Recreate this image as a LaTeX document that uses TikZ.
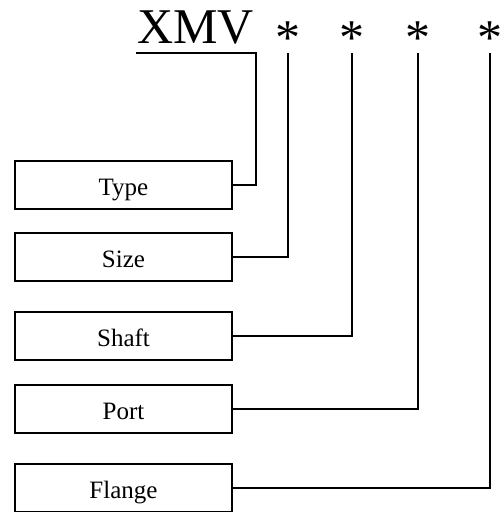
\documentclass[tikz,border=0pt]{standalone}
\usepackage{fontspec}
\setmainfont{Liberation Serif}
\usetikzlibrary{positioning}
\tikzset{
  field/.style={draw, line width=1.1pt, minimum width=217pt, minimum height=48pt,
    inner sep=0pt, text height=22pt, text depth=2pt, font=\fontsize{25}{30}\selectfont},
  big/.style={inner sep=0pt, font=\fontsize{50}{60}\selectfont},
  wire/.style={line width=1.1pt}
}
\begin{document}
\begin{tikzpicture}[x=1pt,y=-1pt]
		\useasboundingbox (0,0) rectangle (501,512);
		\node [big, anchor=base west] (code) at (137,43) {XMV};
		\node [big, anchor=north] (s1) at (288,22) {*};
		\node [big, anchor=north] (s2) at (352,22) {*};
		\node [big, anchor=north] (s3) at (418,22) {*};
		\node [big, anchor=north] (s4) at (490,22) {*};
		\node [field] (type) at (123.5,185) {Type};
		\node [field] (size) at (123.5,257) {Size};
		\node [field] (shaft) at (123.5,336) {Shaft};
		\node [field] (port) at (123.5,409) {Port};
		\node [field] (flange) at (123.5,488) {Flange};
		\coordinate (u0) at (136,53);
		\coordinate (u1) at (256,53);
		\coordinate (t1) at (288,53);
		\coordinate (t2) at (352,53);
		\coordinate (t3) at (418,53);
		\coordinate (t4) at (490,53);
		\draw [wire] (u0)--(u1) |- (type.east);
		\draw [wire] (t1) |- (size.east);
		\draw [wire] (t2) |- (shaft.east);
		\draw [wire] (t3) |- (port.east);
		\draw [wire] (t4) |- (flange.east);
		\end{tikzpicture}
\end{document}
